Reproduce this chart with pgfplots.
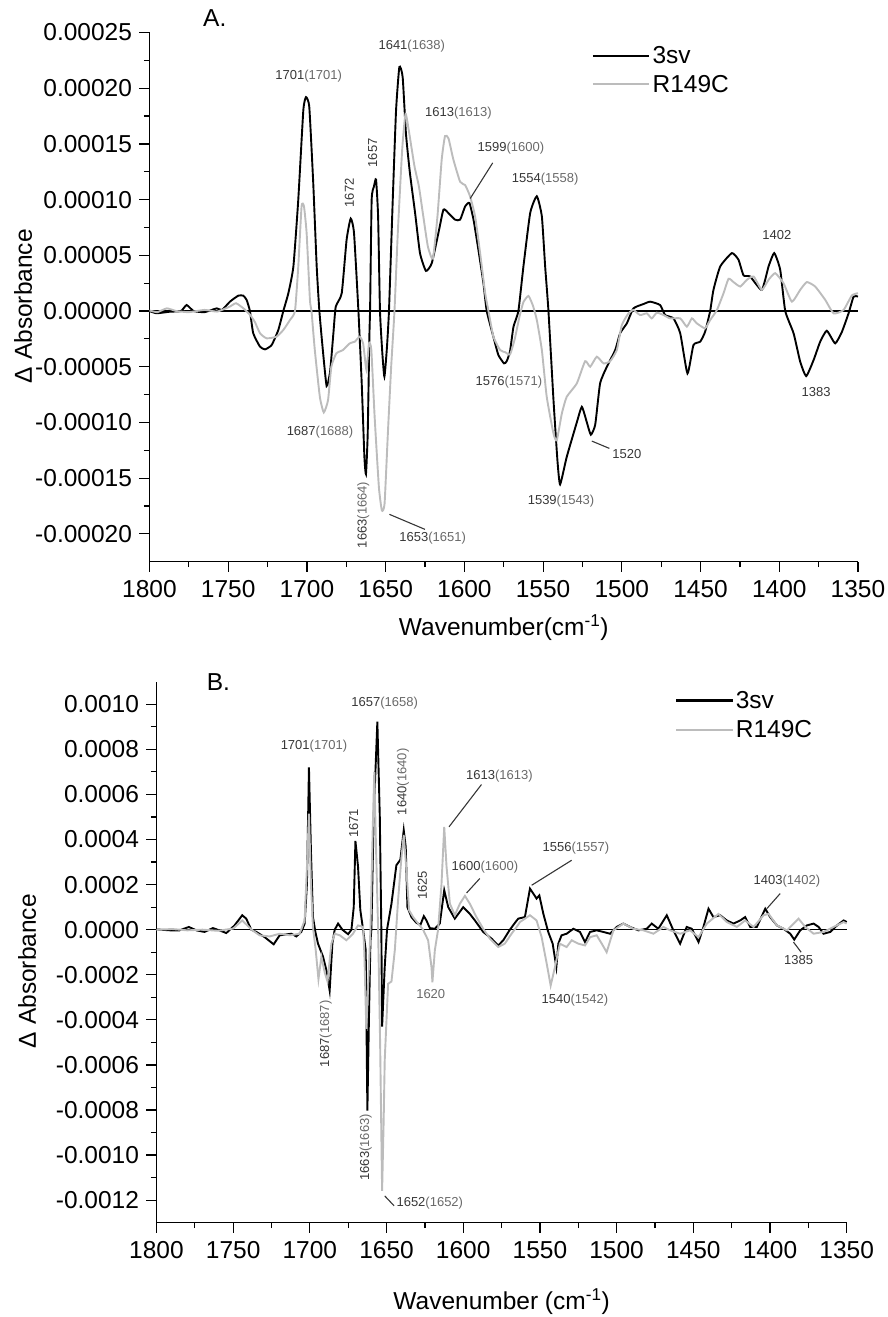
\documentclass[border=0pt]{standalone}
\usepackage{fontspec}
\setmainfont{Liberation Sans}
\usepackage{pgfplots}
\pgfplotsset{compat=1.18}

\definecolor{lgray}{RGB}{188,188,188}
\definecolor{labdark}{RGB}{55,55,55}
\definecolor{labgray}{RGB}{105,105,105}

\newcommand\tickfont{\fontsize{24.5bp}{28bp}\selectfont}
\newcommand\annfont{\fontsize{13bp}{15bp}\selectfont}
\newcommand\lab[2]{\textcolor{labdark}{#1}\textcolor{labgray}{(#2)}}

\tikzset{
  annot/.style={font=\annfont, text=labdark, inner sep=0pt},
  leader/.style={line width=1.1bp, labdark},
}

\pgfplotsset{
  spec/.style={
    scale only axis, x dir=reverse, xmin=1350, xmax=1800,
    axis x line*=bottom, axis y line*=left,
    axis line style={line width=1.4bp, -},
    tick style={line width=1.2bp, black},
    tick align=outside,
    major tick length=10bp, minor tick length=5.5bp,
    minor x tick num=1, minor y tick num=1,
    scaled y ticks=false, scaled x ticks=false,
    xtick={1350,1400,1450,1500,1550,1600,1650,1700,1750,1800},
    xticklabels={1350,1400,1450,1500,1550,1600,1650,1700,1750,1800},
    ticklabel style={font=\tickfont},
    xticklabel style={yshift=-5bp},
    yticklabel style={xshift=-4bp},
    clip=false,
    legend cell align=left,
    legend image code/.code={\draw[##1, line width=2.2bp] (0bp,0bp) -- (56.6bp,0bp);},
  },
  s3sv/.style={black, line width=1.9bp},
  sr149/.style={lgray, line width=1.9bp},
}

\begin{document}
\begin{tikzpicture}
\useasboundingbox (0,0) rectangle (888bp,-1317bp);

% ---------------- Panel A ----------------
\begin{axis}[spec,
  at={(149.5bp,-561.7bp)}, anchor=south west,
  width=708.5bp, height=529.2bp,
  ymin=-0.000225, ymax=0.00025,
  ytick={-0.0002,-0.00015,-0.0001,-0.00005,0,0.00005,0.0001,0.00015,0.0002,0.00025},
  yticklabels={-0.00020,-0.00015,-0.00010,-0.00005,0.00000,0.00005,0.00010,0.00015,0.00020,0.00025},
  xlabel={Wavenumber(cm\textsuperscript{-1})},
  xlabel style={at={(axis description cs:0.5,-0.125)}, anchor=center, font=\tickfont},
  ylabel={Δ Absorbance},
  ylabel style={at={(axis description cs:-0.1785,0.483)}, anchor=center, font=\tickfont},
  legend style={draw=none, fill=none, font=\tickfont,
    at={(axis description cs:0.624,0.978)}, anchor=north west,
    inner sep=0pt, row sep=6bp, nodes={inner sep=2bp}},
]
\addplot[forget plot, black, line width=1.4bp] coordinates {(1800,0) (1350,0)};

\addplot[s3sv, smooth, tension=0.3] coordinates {
(1800,0) (1795.5,-2.0e-6) (1787,-0.6e-6) (1780,0) (1776.4,5.4e-6) (1772,0)
(1765,-1.0e-6) (1757.3,2.4e-6) (1754,0.9e-6) (1748.9,8.4e-6) (1743.6,1.38e-5)
(1740.4,1.38e-5) (1738.3,9.9e-6) (1736.2,0) (1734.1,-2.0e-5) (1729.8,-3.2e-5)
(1726.6,-3.44e-5) (1722.4,-3.05e-5) (1718.2,-1.71e-5) (1715.0,0) (1711.8,1.6e-5)
(1708.6,4.0e-5) (1705.5,1.0e-4) (1702.3,1.80e-4) (1700.6,1.92e-4) (1698.5,1.83e-4)
(1696.0,1.15e-4) (1693.8,4.0e-5) (1692.1,0) (1689.9,-3.5e-5) (1687.5,-6.73e-5)
(1685.3,-5.45e-5) (1683.2,-2.0e-5) (1681.7,3.9e-6) (1677.9,1.6e-5) (1674.8,6.4e-5)
(1672.2,8.3e-5) (1670.1,7.0e-5) (1667.3,0) (1665.2,-6.5e-5) (1663.5,-1.31e-4)
(1662.5,-1.463e-4) (1661.4,-1.1e-4) (1660.3,-2.0e-5) (1659.9,0) (1658.9,9.96e-5)
(1657.4,1.12e-4) (1656.1,1.18e-4) (1654.8,8.5e-5) (1653.6,0) (1652.1,-3.8e-5)
(1650.8,-5.89e-5) (1649.3,-3.5e-5) (1647.9,0) (1645.5,9.96e-5) (1643.4,1.80e-4)
(1641.3,2.19e-4) (1639.2,2.10e-4) (1637.1,1.59e-4) (1634.6,1.24e-4) (1631.3,8.8e-5)
(1628.2,5.2e-5) (1624.4,3.6e-5) (1620.7,4.3e-5) (1616.5,7.0e-5) (1613.3,9.1e-5)
(1610.2,8.8e-5) (1605.9,8.2e-5) (1602.7,8.2e-5) (1599.5,9.4e-5) (1596.8,9.7e-5)
(1594.2,8.2e-5) (1591.1,5.5e-5) (1587.9,2.5e-5) (1585.8,0) (1581.6,-2.3e-5)
(1578.4,-3.95e-5) (1574.8,-4.7e-5) (1573.1,-4.5e-5) (1571.0,-3.6e-5) (1568.8,-1.4e-5)
(1565.7,0) (1562.5,4.0e-5) (1558.2,8.8e-5) (1554.0,1.03e-4) (1550.8,8.5e-5)
(1548.7,4.0e-5) (1546.6,0) (1543.4,-8.0e-5) (1540.9,-1.34e-4) (1539.2,-1.556e-4)
(1535.0,-1.31e-4) (1528.6,-1.0e-4) (1525.4,-8.6e-5) (1522.2,-1.0e-4) (1519.7,-1.11e-4)
(1516.9,-1.02e-4) (1513.8,-6.5e-5) (1509.5,-5.0e-5) (1504.2,-3.5e-5) (1501.1,-2.0e-5)
(1496.8,-1.1e-5) (1492.6,2.4e-6) (1486.2,6.3e-6) (1482.0,8.4e-6) (1475.7,5.4e-6)
(1472.5,-3.6e-6) (1467.2,-6.6e-6) (1462.9,-2.0e-5) (1458.3,-5.6e-5) (1454.5,-3.05e-5)
(1450.2,-2.75e-5) (1447.1,-1.86e-5) (1443.9,0) (1441.8,1.9e-5) (1437.5,4.0e-5)
(1430.1,5.2e-5) (1425.9,4.6e-5) (1422.7,3.2e-5) (1418.5,3.1e-5) (1411.1,1.9e-5)
(1406.8,4.0e-5) (1403.2,5.2e-5) (1399.4,3.7e-5) (1396.2,0) (1390.9,-2.0e-5)
(1386.7,-4.55e-5) (1382.9,-5.84e-5) (1378.2,-4.4e-5) (1374.0,-2.75e-5) (1369.8,-1.77e-5)
(1364.5,-2.9e-5) (1360.2,-1.86e-5) (1356.0,-2.1e-6) (1352.8,1.29e-5) (1350,1.3e-5)
};
\addlegendentry{3sv}

\addplot[sr149, smooth, tension=0.3] coordinates {
(1800,0.5e-6) (1795,-1e-6) (1789,2.4e-6) (1783,0) (1775,-1e-6) (1765,1e-6)
(1757,-0.5e-6) (1749,4e-6) (1745,7e-6) (1740,2e-6) (1736,-3.6e-6) (1733,-1e-5)
(1729.8,-2.0e-5) (1725.6,-2.45e-5) (1719.3,-2.3e-5) (1715.0,-1.7e-5) (1710.8,-8.1e-6)
(1707.6,0) (1705.5,4.0e-5) (1703.4,9.4e-5) (1701.9,9.4e-5) (1700.2,7.0e-5)
(1698.1,1.0e-5) (1697.1,0) (1695.0,-3.5e-5) (1691.8,-7.7e-5) (1689.3,-9.1e-5)
(1686.6,-8.0e-5) (1684.5,-5.0e-5) (1681.3,-3.8e-5) (1677.1,-3.5e-5) (1672.8,-2.9e-5)
(1669.6,-2.75e-5) (1666.5,-2.3e-5) (1664.3,-2.9e-5) (1662.2,-5.3e-5) (1660.6,-2.9e-5)
(1659.1,-3.5e-5) (1657.0,-9.5e-5) (1654.3,-1.58e-4) (1652.4,-1.79e-4) (1650.7,-1.73e-4)
(1648.6,-1.1e-4) (1646.5,-5.0e-5) (1644.4,0) (1642.3,7.0e-5) (1639.5,1.45e-4)
(1637.4,1.77e-4) (1635.3,1.62e-4) (1631.7,1.3e-4) (1628.9,1.12e-4) (1626.4,8.8e-5)
(1623.2,5.8e-5) (1620.0,4.7e-5) (1617.1,8.5e-5) (1614.4,1.36e-4) (1612.3,1.57e-4)
(1610.1,1.55e-4) (1607.0,1.36e-4) (1602.7,1.16e-4) (1599.5,1.13e-4) (1596.4,1.03e-4)
(1593.2,8.5e-5) (1590.0,5.2e-5) (1586.8,1.6e-5) (1584.7,0) (1581.6,-2.3e-5)
(1577.3,-3.5e-5) (1574.0,-3.7e-5) (1571.0,-3.9e-5) (1568.0,-2.5e-5) (1565.0,-5e-6)
(1562.5,8e-6) (1559.3,1.35e-5) (1556.5,5e-6) (1554.0,-8e-6) (1550.8,-3.5e-5)
(1547.7,-7.7e-5) (1543.4,-1.1e-4) (1541.3,-1.16e-4) (1538.1,-9.2e-5) (1535.0,-7.7e-5)
(1528.6,-6.5e-5) (1523.3,-4.5e-5) (1520.1,-5.0e-5) (1515.9,-4.1e-5) (1511.6,-4.7e-5)
(1507.4,-4.5e-5) (1503.2,-3.5e-5) (1500.0,-1.26e-5) (1495.8,-2.1e-6) (1492.6,0.9e-6)
(1488.4,-3.6e-6) (1484.1,-2.1e-6) (1481.0,-6.6e-6) (1477.8,-1.5e-6) (1473.5,-3.6e-6)
(1469.3,-6.6e-6) (1462.9,-6.6e-6) (1458.7,-1.4e-5) (1455.5,-6.6e-6) (1452.4,-1.1e-5)
(1447.1,-1.55e-5) (1443.9,-8.1e-6) (1439.6,0.9e-6) (1435.4,1.6e-5) (1432.2,2.9e-5)
(1429.1,2.6e-5) (1424.8,2.2e-5) (1420.6,2.8e-5) (1416.3,3.1e-5) (1411.1,1.9e-5)
(1406.8,2.8e-5) (1402.6,3.4e-5) (1397.3,2.5e-5) (1392.0,8.4e-6) (1386.7,1.9e-5)
(1382.5,2.6e-5) (1377.2,2.2e-5) (1370.8,1.0e-5) (1365.5,-2.1e-6) (1359.2,0.9e-6)
(1353.9,1.4e-5) (1350,1.6e-5)
};
\addlegendentry{R149C}

% peak annotations
\node[annot] at (axis cs:1698.9,2.11e-4) {\lab{1701}{1701}};
\node[annot] at (axis cs:1633.4,2.38e-4) {\lab{1641}{1638}};
\node[annot] at (axis cs:1603.8,1.78e-4) {\lab{1613}{1613}};
\node[annot] at (axis cs:1570.4,1.46e-4) {\lab{1599}{1600}};
\draw[leader] (axis cs:1582,1.33e-4) -- (axis cs:1596.3,1.01e-4);
\node[annot] at (axis cs:1548.7,1.18e-4) {\lab{1554}{1558}};
\node[annot, rotate=90] at (axis cs:1673.1,1.06e-4) {1672};
\node[annot, rotate=90] at (axis cs:1658.2,1.42e-4) {1657};
\node[annot] at (axis cs:1401.5,6.8e-5) {1402};
\node[annot] at (axis cs:1691.7,-1.084e-4) {\lab{1687}{1688}};
\node[annot, rotate=90] at (axis cs:1664.2,-1.83e-4) {\lab{1663}{1664}};
\node[annot] at (axis cs:1620.1,-2.04e-4) {\lab{1653}{1651}};
\draw[leader] (axis cs:1647.6,-1.825e-4) -- (axis cs:1625,-1.96e-4);
\node[annot] at (axis cs:1571.7,-6.35e-5) {\lab{1576}{1571}};
\node[annot] at (axis cs:1538.6,-1.71e-4) {\lab{1539}{1543}};
\node[annot] at (axis cs:1496.8,-1.28e-4) {1520};
\draw[leader] (axis cs:1519.1,-1.167e-4) -- (axis cs:1507.9,-1.233e-4);
\node[annot] at (axis cs:1376.6,-7.3e-5) {1383};
\end{axis}
\node[anchor=west, font=\tickfont, inner sep=0pt] at (203bp,-18bp) {A.};

% ---------------- Panel B ----------------
\begin{axis}[spec,
  at={(156.5bp,-1222.7bp)}, anchor=south west,
  width=690.2bp, height=541bp,
  ymin=-0.0013, ymax=0.0011,
  ytick={-0.0012,-0.001,-0.0008,-0.0006,-0.0004,-0.0002,0,0.0002,0.0004,0.0006,0.0008,0.001},
  yticklabels={-0.0012,-0.0010,-0.0008,-0.0006,-0.0004,-0.0002,0.0000,0.0002,0.0004,0.0006,0.0008,0.0010},
  xlabel={Wavenumber (cm\textsuperscript{-1})},
  xlabel style={at={(axis description cs:0.5,-0.146)}, anchor=center, font=\tickfont},
  ylabel={Δ Absorbance},
  ylabel style={at={(axis description cs:-0.1876,0.465)}, anchor=center, font=\tickfont},
  legend style={draw=none, fill=none, font=\tickfont,
    at={(axis description cs:0.751,0.9865)}, anchor=north west,
    inner sep=0pt, row sep=7bp, nodes={inner sep=2bp}},
]
\addplot[forget plot, black, line width=1.4bp] coordinates {(1800,0) (1350,0)};

\addplot[s3sv] coordinates {
(1800,1e-6) (1791,-3e-6) (1785,-3e-6) (1778.9,1.2e-5) (1774,-3e-6) (1768.7,-1.0e-5)
(1763.2,7e-6) (1759,-3e-6) (1754.5,-1.5e-5) (1749.1,1.9e-5) (1744.1,6.4e-5)
(1741.5,4.9e-5) (1738.2,0) (1734.9,-1.0e-5) (1729.5,-3.3e-5) (1723.6,-6.5e-5)
(1719.7,-2.5e-5) (1715.4,-2.1e-5) (1712.1,-1.8e-5) (1708.8,-3.0e-5) (1705.6,-1.0e-5)
(1703.4,2.7e-5) (1701.9,2.04e-4) (1700.6,7.2e-4) (1699.3,3.5e-4) (1698.0,5.6e-5)
(1696.4,-1.0e-5) (1694.7,-6.2e-5) (1691.4,-1.2e-4) (1689.2,-1.8e-4) (1687.1,-2.7e-4)
(1685.3,-6e-5) (1683.8,0) (1681.6,2.7e-5) (1678.8,0) (1675.1,-2.0e-5) (1672.9,0)
(1671.4,1.0e-4) (1670.3,3.94e-4) (1668.6,2.8e-4) (1667.1,8.7e-5) (1665.3,0)
(1663.6,-9e-5) (1663.2,-3.5e-4) (1662.5,-8.03e-4) (1661.5,-4.0e-4) (1660.5,-5e-5)
(1659.9,0) (1658.4,5.0e-4) (1656.0,9.23e-4) (1654.4,5.0e-4) (1653.4,0)
(1652.9,-4.3e-4) (1651.2,-1.66e-4) (1649.7,0) (1646.8,1.15e-4) (1643.6,2.86e-4)
(1641.0,3.1e-4) (1638.8,4.41e-4) (1637.5,3.67e-4) (1636.4,1.0e-4) (1633.8,5.6e-5)
(1630.5,3.0e-5) (1627.9,2.2e-5) (1625.7,6.0e-5) (1624.0,4.1e-5) (1621.8,7e-6)
(1618.5,4e-6) (1615.3,2.7e-5) (1612.4,1.75e-4) (1609.8,1.0e-4) (1605.5,4.9e-5)
(1600.0,1.0e-4) (1595.7,7.0e-5) (1592.4,4.1e-5) (1587.0,-1.0e-5) (1581.5,-4.0e-5)
(1577.2,-7.0e-5) (1573.9,-4.7e-5) (1569.6,0) (1565.2,4.0e-5) (1564.1,4.9e-5)
(1559.8,5.6e-5) (1556.5,1.82e-4) (1554.3,1.6e-4) (1552.2,1.38e-4) (1550.4,1.52e-4)
(1547.8,7.1e-5) (1544.6,-1.0e-5) (1541.7,-6.2e-5) (1539.3,-1.66e-4) (1538.0,-6.2e-5)
(1535.9,-2.5e-5) (1532.6,-1.8e-5) (1528.2,4e-6) (1523.9,-1.0e-5) (1520.6,-5.5e-5)
(1517.3,-1.0e-5) (1513.0,-3e-6) (1508.7,-1.0e-5) (1504.3,-1.8e-5) (1500.0,1.2e-5)
(1495.6,2.7e-5) (1491.2,1.2e-5) (1485.8,-3e-6) (1480.4,4e-6) (1477.1,2.7e-5)
(1472.8,4e-6) (1467.3,6.4e-5) (1463.0,-3e-6) (1458.6,-6.2e-5) (1454.3,1.2e-5)
(1451.0,4e-6) (1446.6,-5.5e-5) (1443.4,1.2e-5) (1440.1,9.3e-5) (1436.9,5.6e-5)
(1432.5,6.4e-5) (1428.2,4.1e-5) (1423.8,2.7e-5) (1419.4,4.1e-5) (1416.2,5.6e-5)
(1412.9,1.2e-5) (1408.6,1.2e-5) (1403.1,9.3e-5) (1399.9,5.6e-5) (1395.5,1.9e-5)
(1391.2,4e-6) (1386.8,-1.8e-5) (1384.2,-4.4e-5) (1380.3,-3e-6) (1375.9,1.9e-5)
(1371.6,2.7e-5) (1368.3,1.2e-5) (1365.1,-1.8e-5) (1360.7,-1.0e-5) (1356.3,1.9e-5)
(1352.0,4.1e-5) (1350,3.4e-5)
};
\addlegendentry{3sv}

\addplot[sr149] coordinates {
(1800,-1e-6) (1790,3e-6) (1780,-3e-6) (1770,0) (1760,-5e-6) (1750,5e-6)
(1744.1,4.1e-5) (1738,0) (1732.8,-2.5e-5) (1726.2,-3.0e-5) (1719.7,-1.8e-5)
(1713,-2.5e-5) (1706.7,-1.8e-5) (1703.4,4.1e-5) (1701.9,2.8e-4) (1700.6,5.15e-4)
(1699.3,2.04e-4) (1698.0,1.2e-5) (1696.2,-9.0e-5) (1694.4,-2.2e-4) (1692.5,-1.2e-4)
(1690.3,-1.9e-4) (1688.5,-2.3e-4) (1686.0,-6.2e-5) (1683.8,-1.8e-5) (1680.5,-2.5e-5)
(1676.2,-4.7e-5) (1671.9,-1.8e-5) (1668.6,1.9e-5) (1665.3,1.2e-5) (1664.5,-1.0e-4)
(1663.2,-4.4e-4) (1662.0,-2.5e-4) (1660.5,0) (1659.0,4.5e-4) (1658.0,7.0e-4)
(1657.0,4.0e-4) (1655.5,0) (1654.2,-5.0e-4) (1652.9,-1.159e-3) (1651.9,-8.5e-4)
(1651.2,-5.8e-4) (1649.0,-2.4e-4) (1646.8,-2.3e-4) (1644.6,-9.0e-5) (1642.5,1.3e-4)
(1640.3,3.2e-4) (1638.8,4.2e-4) (1637.0,2.6e-4) (1635.3,8.6e-5) (1632.7,5.6e-5)
(1629.4,2.7e-5) (1626.2,0) (1622.9,-4.7e-5) (1620.7,-1.66e-4) (1620.1,-2.33e-4)
(1618.5,-9.0e-5) (1616.4,0) (1614.2,2.0e-4) (1612.4,4.56e-4) (1610.9,2.8e-4)
(1608.7,1.15e-4) (1605.5,6.4e-5) (1602.2,1.15e-4) (1598.9,1.5e-4) (1595.7,1.15e-4)
(1591.4,5.6e-5) (1587.0,4e-6) (1582.6,-4.0e-5) (1577.2,-7.7e-5) (1572.9,-6.2e-5)
(1568.5,-1.8e-5) (1565.2,1.2e-5) (1563.0,3.4e-5) (1556.5,6.4e-5) (1552.2,4.1e-5)
(1548.9,-3.3e-5) (1545.6,-1.5e-4) (1543.0,-2.48e-4) (1540.2,-1.66e-4) (1537.0,-6.2e-5)
(1532.6,-7.7e-5) (1529.3,-4.7e-5) (1525.0,-6.2e-5) (1520.6,-7.0e-5) (1517.3,-3.3e-5)
(1513.0,-2.5e-5) (1509.7,-6.2e-5) (1506.5,-1.0e-4) (1502.1,-3e-6) (1495.6,2.7e-5)
(1489.1,4e-6) (1482.5,-3e-6) (1476.0,-1.8e-5) (1469.5,1.2e-5) (1465.1,-3e-6)
(1458.6,-1.8e-5) (1452.1,-3e-6) (1446.6,-3.3e-5) (1441.2,2.7e-5) (1433.6,7.0e-5)
(1428.2,3.4e-5) (1421.6,1.2e-5) (1416.2,4.1e-5) (1410.7,1.2e-5) (1404.2,6.4e-5)
(1400.9,7.0e-5) (1395.5,1.9e-5) (1388.9,-3e-6) (1384.6,2.7e-5) (1381.4,4.9e-5)
(1377.0,1.2e-5) (1371.6,-1.8e-5) (1365.1,-1.0e-5) (1358.5,1.2e-5) (1352.0,3.4e-5)
(1350,2.7e-5)
};
\addlegendentry{R149C}

% peak annotations
\node[annot] at (axis cs:1697.3,8.16e-4) {\lab{1701}{1701}};
\node[annot] at (axis cs:1651.2,1.004e-3) {\lab{1657}{1658}};
\node[annot, rotate=90] at (axis cs:1671.4,4.71e-4) {1671};
\node[annot, rotate=90] at (axis cs:1639.2,6.56e-4) {\lab{1640}{1640}};
\node[annot, rotate=90] at (axis cs:1626.6,1.97e-4) {1625};
\node[annot] at (axis cs:1576.4,6.81e-4) {\lab{1613}{1613}};
\draw[leader] (axis cs:1588.1,6.44e-4) -- (axis cs:1609.3,4.56e-4);
\node[annot] at (axis cs:1585.9,2.78e-4) {\lab{1600}{1600}};
\draw[leader] (axis cs:1589.2,2.27e-4) -- (axis cs:1597.8,1.63e-4);
\node[annot] at (axis cs:1526.5,3.6e-4) {\lab{1556}{1557}};
\draw[leader] (axis cs:1529.3,3.08e-4) -- (axis cs:1555.4,1.97e-4);
\node[annot] at (axis cs:1389,2.15e-4) {\lab{1403}{1402}};
\draw[leader] (axis cs:1393.4,1.6e-4) -- (axis cs:1402.1,9.3e-5);
\node[annot] at (axis cs:1381.4,-1.33e-4) {1385};
\draw[leader] (axis cs:1384.7,-5.5e-5) -- (axis cs:1379.7,-1.0e-4);
\node[annot, text=labgray] at (axis cs:1621.2,-2.84e-4) {1620};
\node[annot, rotate=90] at (axis cs:1689.7,-4.62e-4) {\lab{1687}{1687}};
\node[annot, rotate=90] at (axis cs:1663.6,-9.66e-4) {\lab{1663}{1663}};
\node[annot] at (axis cs:1621.8,-1.211e-3) {\lab{1652}{1652}};
\draw[leader] (axis cs:1651.2,-1.181e-3) -- (axis cs:1645.1,-1.225e-3);
\node[annot] at (axis cs:1527.2,-3.14e-4) {\lab{1540}{1542}};
\end{axis}
\node[anchor=west, font=\tickfont, inner sep=0pt] at (206.7bp,-681.7bp) {B.};
\end{tikzpicture}
\end{document}
